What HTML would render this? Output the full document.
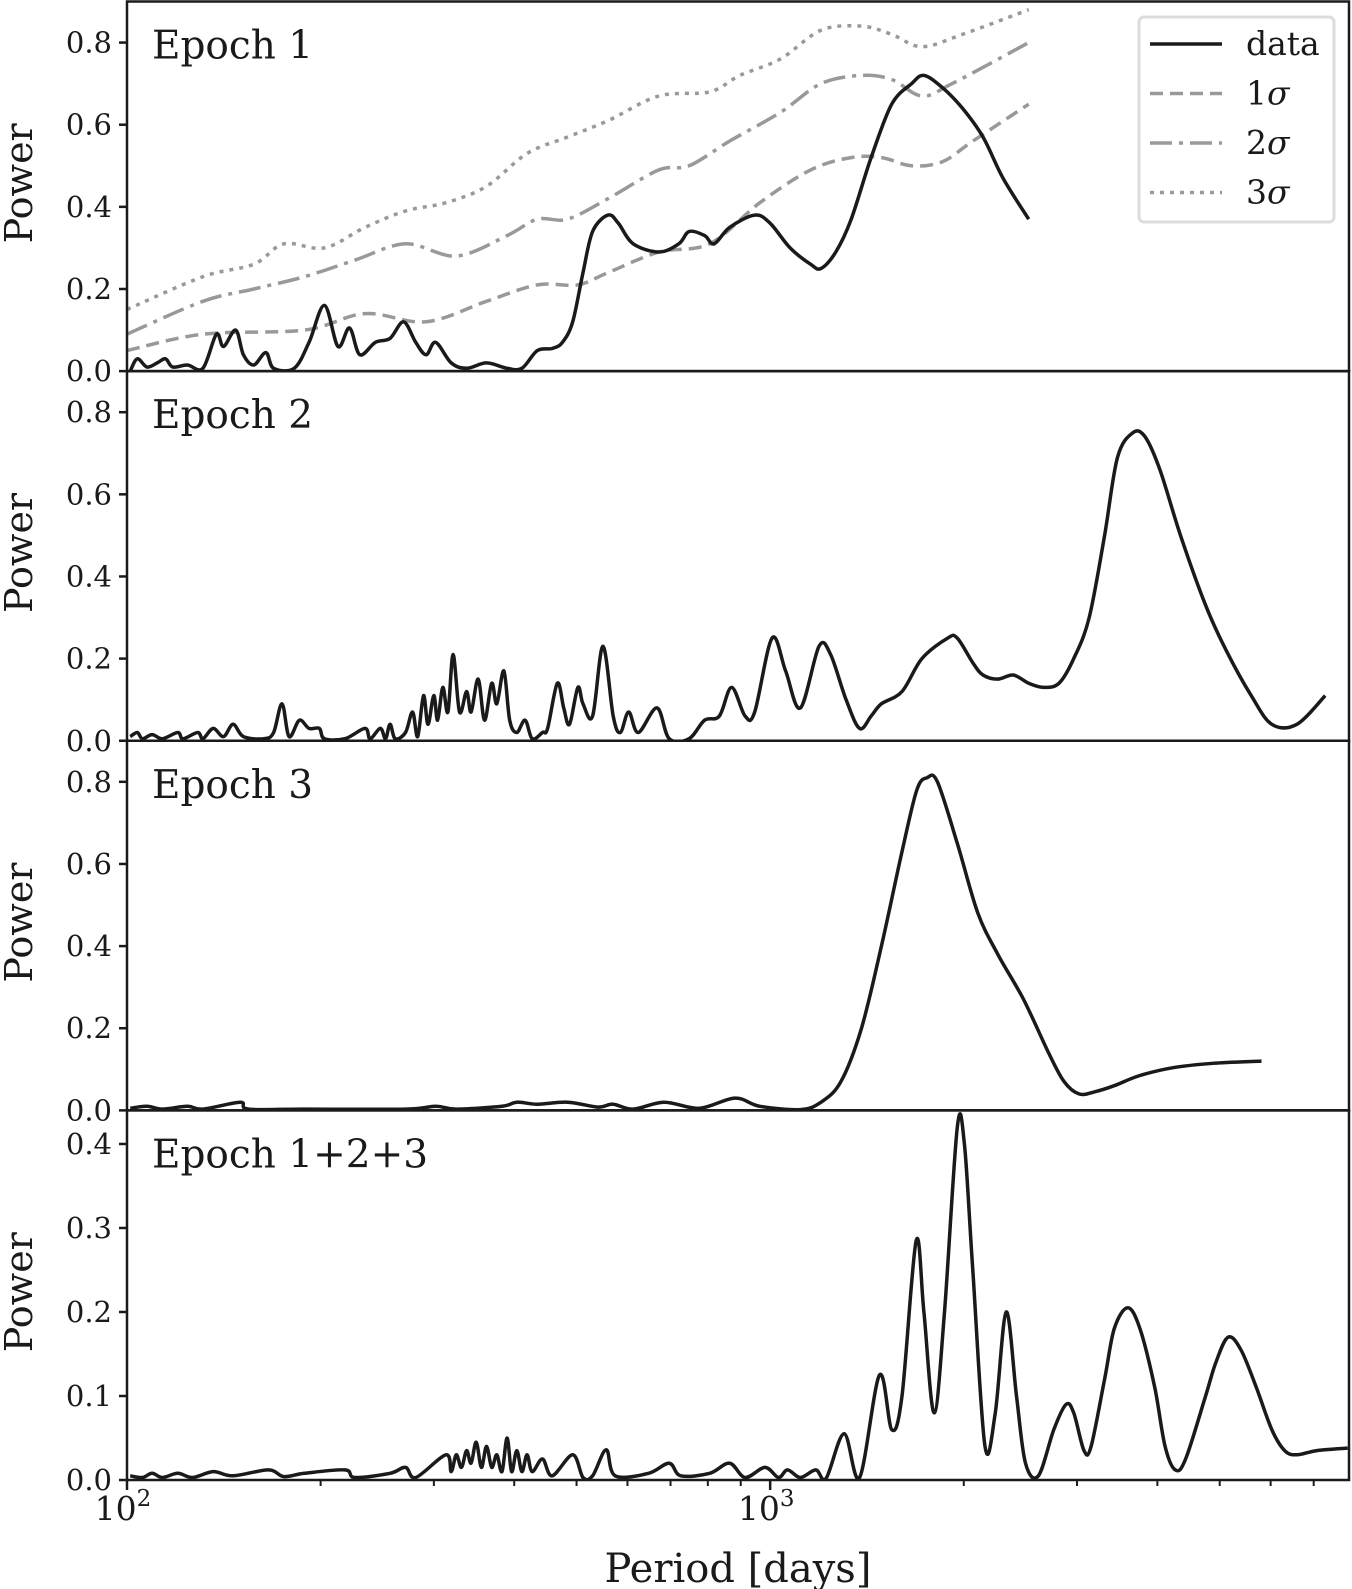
<!DOCTYPE html>
<html><head><meta charset="utf-8"><style>
html,body{margin:0;padding:0;background:#fff}
svg{display:block}
text{font-family:"DejaVu Serif","Liberation Serif",serif;fill:#1a1a1a}
</style></head><body>
<svg id="chart" width="1352" height="1589" viewBox="0 0 1352 1589" xmlns="http://www.w3.org/2000/svg"></svg>
<script>
// ---- data (log10 period in days, power) ----
const e1LogP=[2.005,2.016,2.031,2.047,2.060,2.071,2.094,2.118,2.139,2.150,2.169,2.181,2.197,2.216,2.228,2.260,2.283,2.307,2.328,2.346,2.362,2.386,2.409,2.430,2.449,2.465,2.480,2.504,2.528,2.559,2.591,2.614,2.638,2.661,2.677,2.693,2.709,2.724,2.748,2.764,2.787,2.827,2.858,2.874,2.898,2.913,2.937,2.976,3.000,3.031,3.063,3.079,3.102,3.126,3.157,3.189,3.220,3.239,3.268,3.299,3.331,3.362,3.402];
const e1Power=[0,0.03,0.01,0.02,0.03,0.01,0.015,0.007,0.09,0.06,0.1,0.04,0.015,0.045,0.007,0.007,0.07,0.16,0.06,0.105,0.04,0.07,0.08,0.12,0.07,0.04,0.07,0.02,0.007,0.02,0.007,0.007,0.05,0.055,0.07,0.12,0.24,0.34,0.38,0.36,0.31,0.29,0.31,0.34,0.33,0.31,0.35,0.38,0.36,0.3,0.26,0.25,0.29,0.37,0.52,0.65,0.7,0.72,0.69,0.64,0.57,0.47,0.37];
const s1LogP=[2.0,2.118,2.276,2.370,2.465,2.559,2.638,2.701,2.748,2.827,2.906,2.984,3.063,3.126,3.173,3.220,3.268,3.315,3.402];
const s1Power=[0.05,0.09,0.1,0.14,0.12,0.17,0.21,0.21,0.24,0.29,0.31,0.41,0.49,0.52,0.52,0.5,0.51,0.56,0.65];
const s2LogP=[2.0,2.118,2.197,2.276,2.354,2.433,2.512,2.591,2.638,2.685,2.748,2.827,2.874,2.937,3.016,3.079,3.142,3.189,3.236,3.283,3.402];
const s2Power=[0.09,0.17,0.2,0.23,0.27,0.31,0.28,0.33,0.37,0.37,0.42,0.49,0.5,0.56,0.63,0.7,0.72,0.71,0.67,0.7,0.8];
const s3LogP=[2.0,2.118,2.197,2.244,2.307,2.370,2.433,2.496,2.559,2.622,2.685,2.748,2.827,2.906,2.953,3.016,3.079,3.142,3.189,3.236,3.299,3.402];
const s3Power=[0.15,0.23,0.26,0.31,0.3,0.35,0.39,0.41,0.45,0.53,0.57,0.61,0.67,0.68,0.72,0.76,0.83,0.84,0.82,0.79,0.82,0.88];
const e2LogP=[2.005,2.016,2.024,2.039,2.055,2.079,2.087,2.110,2.118,2.134,2.150,2.165,2.181,2.213,2.228,2.241,2.252,2.268,2.283,2.299,2.307,2.339,2.370,2.378,2.394,2.402,2.409,2.417,2.433,2.444,2.452,2.461,2.468,2.477,2.483,2.491,2.499,2.507,2.517,2.528,2.535,2.546,2.556,2.567,2.575,2.586,2.595,2.606,2.619,2.630,2.646,2.654,2.669,2.679,2.688,2.701,2.709,2.724,2.740,2.756,2.767,2.780,2.795,2.824,2.843,2.874,2.898,2.921,2.940,2.961,2.976,3.003,3.024,3.047,3.076,3.094,3.118,3.139,3.157,3.173,3.205,3.236,3.276,3.291,3.315,3.331,3.354,3.378,3.402,3.425,3.449,3.472,3.496,3.520,3.540,3.564,3.583,3.606,3.638,3.677,3.709,3.748,3.780,3.819,3.863];
const e2Power=[0.01,0.02,0.005,0.015,0.005,0.02,0.005,0.02,0.005,0.03,0.01,0.04,0.01,0.005,0.02,0.09,0.01,0.05,0.03,0.03,0.005,0.005,0.03,0.005,0.03,0.005,0.04,0.005,0.02,0.07,0.01,0.11,0.04,0.11,0.05,0.13,0.07,0.21,0.07,0.12,0.07,0.15,0.05,0.14,0.09,0.17,0.05,0.02,0.05,0.005,0.02,0.03,0.14,0.08,0.04,0.13,0.09,0.06,0.23,0.06,0.02,0.07,0.02,0.08,0.005,0.005,0.05,0.06,0.13,0.06,0.07,0.25,0.17,0.08,0.23,0.21,0.1,0.03,0.06,0.09,0.12,0.2,0.25,0.25,0.19,0.16,0.15,0.16,0.14,0.13,0.14,0.2,0.3,0.5,0.69,0.75,0.74,0.66,0.5,0.33,0.22,0.11,0.04,0.04,0.11];
const e3LogP=[2.005,2.031,2.055,2.094,2.118,2.176,2.189,2.276,2.433,2.480,2.512,2.583,2.606,2.638,2.685,2.732,2.756,2.787,2.835,2.890,2.945,2.984,3.047,3.079,3.110,3.142,3.173,3.205,3.228,3.244,3.260,3.291,3.323,3.354,3.394,3.433,3.457,3.480,3.504,3.535,3.575,3.630,3.693,3.764];
const e3Power=[0.005,0.01,0.003,0.01,0.003,0.02,0.003,0.003,0.003,0.01,0.003,0.01,0.02,0.015,0.02,0.008,0.015,0.003,0.02,0.005,0.03,0.01,0.002,0.02,0.07,0.2,0.4,0.63,0.78,0.81,0.8,0.65,0.48,0.38,0.27,0.14,0.07,0.04,0.045,0.06,0.085,0.105,0.115,0.12];
const e4LogP=[2.005,2.024,2.039,2.055,2.079,2.102,2.134,2.165,2.220,2.244,2.276,2.339,2.354,2.409,2.433,2.449,2.496,2.504,2.512,2.520,2.528,2.535,2.543,2.551,2.559,2.567,2.575,2.583,2.591,2.598,2.606,2.614,2.622,2.630,2.646,2.661,2.693,2.709,2.724,2.745,2.759,2.811,2.843,2.861,2.906,2.937,2.961,2.992,3.013,3.027,3.047,3.071,3.087,3.115,3.139,3.170,3.189,3.205,3.227,3.239,3.255,3.271,3.291,3.302,3.315,3.334,3.350,3.367,3.383,3.397,3.417,3.441,3.460,3.472,3.488,3.499,3.520,3.535,3.556,3.575,3.598,3.614,3.630,3.646,3.677,3.693,3.712,3.732,3.756,3.780,3.800,3.819,3.850,3.898];
const e4Power=[0.005,0.003,0.008,0.003,0.008,0.003,0.01,0.005,0.012,0.004,0.008,0.012,0.003,0.008,0.015,0.003,0.03,0.01,0.03,0.015,0.035,0.02,0.045,0.015,0.04,0.015,0.03,0.01,0.05,0.01,0.035,0.01,0.03,0.01,0.025,0.005,0.03,0.003,0.005,0.036,0.005,0.008,0.02,0.005,0.008,0.02,0.003,0.015,0.003,0.012,0.003,0.012,0.002,0.055,0.003,0.125,0.06,0.1,0.285,0.2,0.08,0.2,0.42,0.4,0.25,0.04,0.08,0.2,0.1,0.02,0.005,0.06,0.09,0.08,0.035,0.04,0.12,0.18,0.205,0.18,0.11,0.04,0.012,0.025,0.1,0.14,0.17,0.155,0.11,0.06,0.035,0.03,0.035,0.038];
const yTicksA=[0,0.2,0.4,0.6,0.8];
const yTicksB=[0,0.1,0.2,0.3,0.4];
const panelLabels=["Epoch 1","Epoch 2","Epoch 3","Epoch 1+2+3"];

// ---- layout ----
const svg=document.getElementById('chart');
const NS='http://www.w3.org/2000/svg';
const L=127,R=1349,TOP=1.5,BOT=1480,PH=(BOT-TOP)/4;
const xMinLog=2,xMaxLog=3.9;
const xs=v=>L+(v-xMinLog)/(xMaxLog-xMinLog)*(R-L);
function mk(tag,attrs,parent){const e=document.createElementNS(NS,tag);for(const k in attrs)e.setAttribute(k,attrs[k]);(parent||svg).appendChild(e);return e;}
function smooth(pts){let d='M'+pts[0][0].toFixed(1)+','+pts[0][1].toFixed(1);
 for(let i=0;i<pts.length-1;i++){const p0=pts[Math.max(0,i-1)],p1=pts[i],p2=pts[i+1],p3=pts[Math.min(pts.length-1,i+2)];
  const c1x=p1[0]+(p2[0]-p0[0])/6,c1y=p1[1]+(p2[1]-p0[1])/6,c2x=p2[0]-(p3[0]-p1[0])/6,c2y=p2[1]-(p3[1]-p1[1])/6;
  d+=' C'+c1x.toFixed(1)+','+c1y.toFixed(1)+' '+c2x.toFixed(1)+','+c2y.toFixed(1)+' '+p2[0].toFixed(1)+','+p2[1].toFixed(1);}
 return d;}
const clip=mk('defs',{});
const panels=[
 {ymax:0.9,ticks:yTicksA,series:[[s3LogP,s3Power,'#999','4,6','threshold-3sigma'],[s2LogP,s2Power,'#999','22,7,4,7','threshold-2sigma'],[s1LogP,s1Power,'#999','13,7','threshold-1sigma'],[e1LogP,e1Power,'#1a1a1a','','epoch1-power-line']]},
 {ymax:0.9,ticks:yTicksA,series:[[e2LogP,e2Power,'#1a1a1a','','epoch2-power-line']]},
 {ymax:0.9,ticks:yTicksA,series:[[e3LogP,e3Power,'#1a1a1a','','epoch3-power-line']]},
 {ymax:0.44,ticks:yTicksB,series:[[e4LogP,e4Power,'#1a1a1a','','combined-power-line']]}
];
panels.forEach((p,i)=>{
 const t=TOP+i*PH,b=t+PH;
 const ys=v=>b-v/p.ymax*PH;
 const g=mk('g',{});
 
 
 const cp=mk('clipPath',{id:'cp'+i},clip);mk('rect',{x:L,y:t,width:R-L,height:PH},cp);
 const sg=mk('g',{'clip-path':'url(#cp'+i+')'},g);
 p.series.forEach(s=>{
  const pts=s[0].map((v,k)=>[xs(v),ys(s[1][k])]);
  const path=mk('path',{d:smooth(pts),fill:'none',stroke:s[2],'stroke-width':3.5,'stroke-linejoin':'round'},sg);
  if(s[3])path.setAttribute('stroke-dasharray',s[3]);
  
  
 });
 p.ticks.forEach(v=>{
  const y=ys(v);
  mk('line',{x1:L-8,x2:L,y1:y,y2:y,stroke:'#1a1a1a','stroke-width':2.5},g);
  const tx=mk('text',{x:L-15,y:y+10,'text-anchor':'end','font-size':29},g);tx.textContent=v.toFixed(1);
  
  
 });
 const yl=mk('text',{transform:'translate(32,'+(t+PH/2-3)+') rotate(-90)','text-anchor':'middle','font-size':38},g);yl.textContent='Power';
 
 
 const pl=mk('text',{x:152,y:t+57,'font-size':39},g);pl.textContent=panelLabels[i];
 
 
 mk('rect',{x:L,y:t,width:R-L,height:PH,fill:'none',stroke:'#1a1a1a','stroke-width':2.5},g);
});
// x ticks
for(let dec=2;dec<=3;dec++)for(let m=1;m<=9;m++){const lv=dec+Math.log10(m);if(lv>xMaxLog)continue;const x=xs(lv);
 mk('line',{x1:x,x2:x,y1:BOT,y2:BOT+(m===1?10:6),stroke:'#1a1a1a','stroke-width':m===1?2.5:2});}
[2,3].forEach(d=>{const tx=mk('text',{x:xs(d)-4,y:BOT+40,'text-anchor':'middle','font-size':33});
 tx.innerHTML='10<tspan dy="-14" font-size="23">'+d+'</tspan>';
 
 });
const xl=mk('text',{x:738,y:1582,'text-anchor':'middle','font-size':40});xl.textContent='Period [days]';


// legend
const lg=mk('g',{});


mk('rect',{x:1139,y:17,width:195,height:205,rx:5,fill:'#fff',stroke:'#dcdcdc','stroke-width':3},lg);
[['data','#1a1a1a',''],['1σ','#999','13,7'],['2σ','#999','22,7,4,7'],['3σ','#999','4,6']].forEach((e,k)=>{
 const y=44+k*49.5;
 const ln=mk('line',{x1:1150,x2:1222,y1:y,y2:y,stroke:e[1],'stroke-width':3.5},lg);if(e[2])ln.setAttribute('stroke-dasharray',e[2]);
 const tx=mk('text',{x:1246,y:y+11,'font-size':33},lg);
 if(k===0)tx.textContent=e[0];else tx.innerHTML=e[0][0]+'<tspan font-style="italic">σ</tspan>';
 
 
});
</script>
</body></html>
